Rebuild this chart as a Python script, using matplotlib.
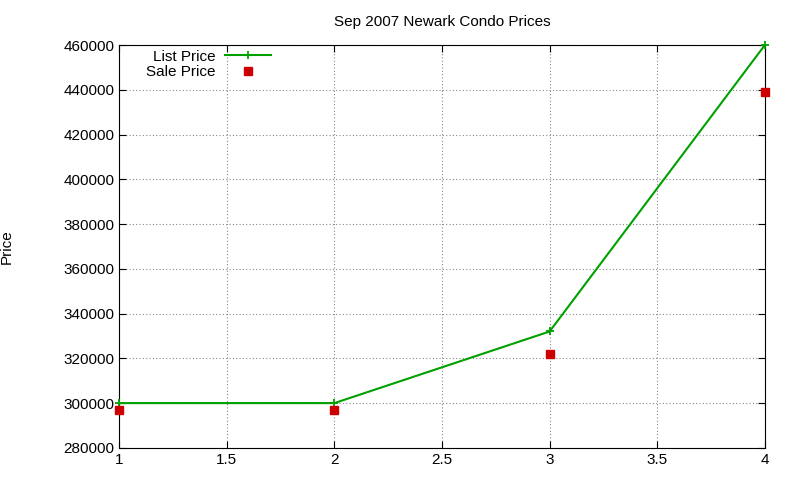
import matplotlib
matplotlib.use('Agg')
import matplotlib.pyplot as plt

months = [1, 2, 3, 4]
list_price = [300000, 300000, 332000, 460000]
sale_price = [297000, 297000, 322000, 439000]

plt.rcParams.update({'font.family': 'Liberation Sans', 'font.size': 11})
fig = plt.figure(figsize=(8, 4.8), dpi=100)
ax = fig.add_axes([0.149, 0.067, 0.807, 0.839])

ax.plot(months, list_price, color='#00a000', marker='+', markersize=6,
        markeredgewidth=1.3, linewidth=1.5, label='List Price', clip_on=False, zorder=3)
ax.plot(months, sale_price, linestyle='none', marker='s', markersize=5.5,
        color='#cc0000', label='Sale Price', clip_on=False, zorder=3)

ax.set_xlim(1, 4)
ax.set_ylim(280000, 460000)
ax.set_xticks([1, 1.5, 2, 2.5, 3, 3.5, 4])
ax.set_xticklabels(['1', '1.5', '2', '2.5', '3', '3.5', '4'])
ax.set_yticks(range(280000, 460001, 20000))
ax.grid(True, linestyle=(0, (1, 2)), color='#888888', linewidth=0.8)
ax.tick_params(direction='in', top=True, right=True, length=5)
ax.set_ylabel('Price', labelpad=36)
ax.set_title('Sep 2007 Newark Condo Prices', fontsize=11, pad=14)

ax.legend(loc='upper left', bbox_to_anchor=(0.025, 1.015), frameon=False,
          markerfirst=False, handlelength=3.0, borderaxespad=0.3,
          labelspacing=0.1, handletextpad=0.6)

fig.savefig('out.png', dpi=100)
